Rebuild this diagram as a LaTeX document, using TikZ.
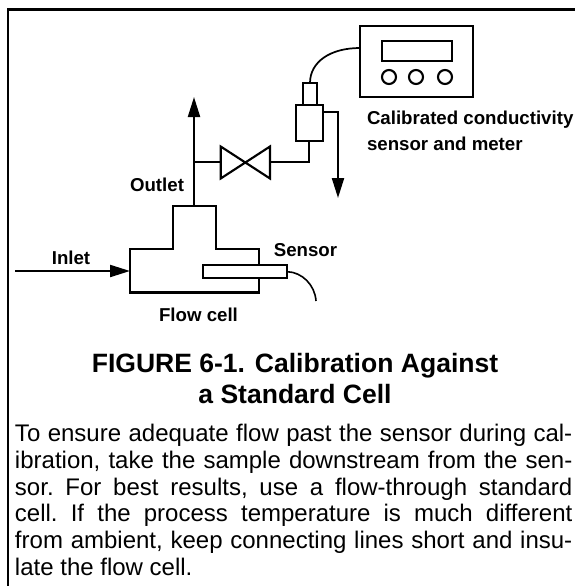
\documentclass[tikz,border=0pt]{standalone}
\usepackage{fontspec}
\setmainfont{Liberation Sans}
\usetikzlibrary{arrows.meta}
\tikzset{
  pipe/.style={draw=black,line width=1.6pt,line join=miter},
  box/.style={draw=black,line width=1.6pt,fill=white,inner sep=0pt,outer sep=0pt},
  knob/.style={box,circle,minimum size=10.5pt},
  frameline/.style={draw=black,line width=2.2pt},
  flowarrow/.style={pipe,-{Triangle[length=15pt,width=9pt]}},
  lab/.style={font=\bfseries\fontsize{14pt}{18pt}\selectfont,inner sep=0pt,outer sep=0pt},
  cable/.style={draw=black,line width=1.2pt},
  bodytext/.style={font=\fontsize{18pt}{20pt}\selectfont\frenchspacing,inner sep=0pt,outer sep=0pt,anchor=north west,align=left},
  titletext/.style={font=\bfseries\fontsize{19.9pt}{23.3pt}\selectfont,inner sep=0pt,outer sep=0pt,align=center}
}
\newcommand{\fl}[1]{\makebox[418pt][s]{#1}}
\begin{document}
\begin{tikzpicture}[x=0.75pt,y=-0.75pt]
\useasboundingbox (0,0) rectangle (575,586);
% frame
\coordinate (fa) at (575,9.5);
\coordinate (fb) at (8,9.5);
\coordinate (fc) at (8,586);
\draw[frameline] (fa) -- (fb) -- (fc);
% meter
\node[box,minimum width=84.75pt,minimum height=53.25pt] (meter) at (416.5,61.5) {};
\node[box,minimum width=52.5pt,minimum height=15pt] (display) at (417,51) {};
\node[knob] (k1) at (389,77) {};
\node[knob] (k2) at (416,77) {};
\node[knob] (k3) at (445,77) {};
% inline sensor
\node[box,minimum width=10.5pt,minimum height=16.5pt] (cap) at (310,94) {};
\node[box,minimum width=20.25pt,minimum height=27pt] (body) at (309.5,123) {};
\draw[cable,line width=1.3pt] (cap.north) .. controls (310,62) and (330,48) .. (meter.west|-0,48);
% drain
\coordinate (drainEnd) at (338,198);
\draw[flowarrow] (body.east|-0,112) -| (drainEnd);
% flow cell
\coordinate (cellTop) at (194,206);
\coordinate (cellIn) at (130,271);
\coordinate (gapUp) at (259,265);
\coordinate (gapDown) at (259,278.5);
\draw[pipe] (gapUp) -- (259,249) -- (216,249) -- (216,206) -- (173,206) -- (173,249) -- (130,249) -- (130,292.5) -- (259,292.5) -- (gapDown);
\node[box,minimum width=63pt,minimum height=10pt] (probe) at (245,271.7) {};
\draw[cable] (probe.east) .. controls (302,272) and (315,285) .. (316,301);
% outlet and inlet
\coordinate (outTip) at (194,97);
\coordinate (inStart) at (15,271);
\draw[flowarrow] (cellTop) -- (outTip);
\draw[flowarrow] (inStart) -- (cellIn);
% valve
\coordinate (vl) at (220.7,162);
\coordinate (vr) at (270,162);
\coordinate (branch) at (194,162);
\draw[pipe] (220.7,146.5) -- (270,178.5) -- (270,146.5) -- (220.7,178.5) -- cycle;
\draw[pipe] (branch) -- (vl);
\draw[pipe] (vr) -| (body.south-|309,0);
% labels
\node[lab,anchor=west] (l1) at (367,120) {Calibrated conductivity};
\node[lab,anchor=west] (l2) at (367,144) {sensor and meter};
\node[lab] (l3) at (157,184.5) {Outlet};
\node[lab] (l4) at (71,257.5) {Inlet};
\node[lab] (l5) at (305.5,250) {Sensor};
\node[lab] (l6) at (198.5,315) {Flow cell};
\node[titletext] (title) at (295,378.5) {FIGURE 6-1. Calibration Against\\a Standard Cell};
\node[bodytext] (text) at (15,424.5) {\fl{To ensure adequate flow past the sensor during cal-}\\
\fl{ibration, take the sample downstream from the sen-}\\
\fl{sor. For best results, use a flow-through standard}\\
\fl{cell. If the process temperature is much different}\\
\fl{from ambient, keep connecting lines short and insu-}\\
late the flow cell.};
\end{tikzpicture}
\end{document}
